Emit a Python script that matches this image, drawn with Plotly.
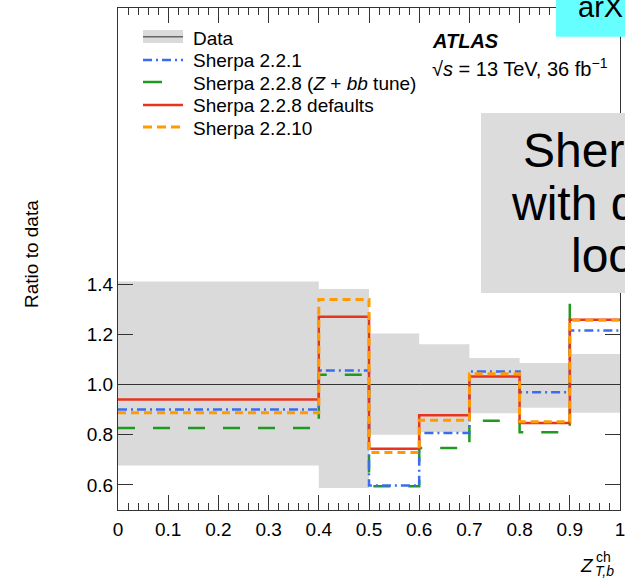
import plotly.graph_objects as go

# ---- data ----
bin_edges = [0.0, 0.4, 0.5, 0.6, 0.7, 0.8, 0.9, 1.0]
data_lo = [0.677, 0.588, 0.80, 0.81, 0.885, 0.907, 0.887]
data_hi = [1.41, 1.38, 1.203, 1.16, 1.106, 1.086, 1.122]
data_central = [1.0, 1.0, 1.0, 1.0, 1.0, 1.0, 1.0]
sherpa_221 = [0.90, 1.056, 0.598, 0.807, 1.052, 0.969, 1.215]
sherpa_228_zbb = [0.827, 1.039, 0.595, 0.747, 0.856, 0.81, 1.60]
sherpa_228_def = [0.94, 1.27, 0.744, 0.877, 1.032, 0.847, 1.258]
sherpa_2210 = [0.887, 1.339, 0.729, 0.858, 1.043, 0.852, 1.256]

x_tickvals = [0.0, 0.1, 0.2, 0.3, 0.4, 0.5, 0.6, 0.7, 0.8, 0.9, 1.0]
x_ticktext = ["0", "0.1", "0.2", "0.3", "0.4", "0.5", "0.6", "0.7", "0.8", "0.9", "1"]
y_tickvals = [0.6, 0.8, 1.0, 1.2, 1.4]
y_ticktext = ["0.6", "0.8", "1.0", "1.2", "1.4"]

legend_labels = ["Data", "Sherpa 2.2.1", "Sherpa 2.2.8 (<i>Z</i> + <i>bb</i> tune)",
                 "Sherpa 2.2.8 defaults", "Sherpa 2.2.10"]

FONT = "Liberation Sans, Arial, Helvetica, sans-serif"
W, H = 625, 585
L, R, T, B = 118, 620, 8, 510

BLUE = "#3a6cf0"
GREEN = "#1e9a1e"
RED = "#e8341f"
ORANGE = "#ff9a00"
BAND = "#dadada"


def step(vals):
    return list(vals) + [vals[-1]]


def px(xp):
    return (xp - L) / (R - L)


def py(yp):
    return (B - yp) / (B - T)


fig = go.Figure()

fig.add_trace(go.Scatter(x=bin_edges, y=step(data_lo), mode="lines",
                         line=dict(width=0, shape="hv"), hoverinfo="skip",
                         showlegend=False))
fig.add_trace(go.Scatter(x=bin_edges, y=step(data_hi), mode="lines",
                         line=dict(width=0, shape="hv"), fill="tonexty",
                         fillcolor=BAND, hoverinfo="skip", showlegend=False))
fig.add_trace(go.Scatter(x=bin_edges, y=step(data_central), mode="lines",
                         line=dict(width=1, color="#333333", shape="hv"),
                         showlegend=False))

series = [
    (sherpa_228_zbb, GREEN, "17px,18px", 2.5),
    (sherpa_221, BLUE, "9px,4px,2px,4px", 2.5),
    (sherpa_228_def, RED, "solid", 2.5),
    (sherpa_2210, ORANGE, "8px,5px", 3),
]
for vals, col, dash, w in series:
    fig.add_trace(go.Scatter(x=bin_edges, y=step(vals), mode="lines",
                             line=dict(color=col, width=w, dash=dash, shape="hv"),
                             showlegend=False))

shapes = []
annotations = []

# legend
shapes.append(dict(type="rect", xref="paper", yref="paper",
                   x0=px(143), x1=px(183), y0=py(30), y1=py(43),
                   fillcolor=BAND, line=dict(width=0)))
shapes.append(dict(type="line", xref="paper", yref="paper",
                   x0=px(143), x1=px(183), y0=py(36.8), y1=py(36.8),
                   line=dict(color="#666666", width=1.5)))
leg_lines = [(60, BLUE, "9px,4px,2px,4px", 2.5, 183),
             (82, GREEN, "solid", 2.5, 162),
             (105, RED, "solid", 2.5, 183),
             (127, ORANGE, "9px,5px", 3, 183)]
for yy, col, dash, w, xe in leg_lines:
    shapes.append(dict(type="line", xref="paper", yref="paper",
                       x0=px(143), x1=px(xe), y0=py(yy), y1=py(yy),
                       line=dict(color=col, width=w, dash=dash)))
for i, lab in enumerate(legend_labels):
    yc = 38.4 + 22.5 * i
    annotations.append(dict(xref="paper", yref="paper", x=px(191), y=py(yc),
                            xanchor="left", yanchor="middle", showarrow=False,
                            text=lab, font=dict(family=FONT, size=19, color="black")))

# ATLAS label
annotations.append(dict(xref="paper", yref="paper", x=px(430), y=py(41.4),
                        xanchor="left", yanchor="middle", showarrow=False,
                        text="<b><i>ATLAS</i></b>",
                        font=dict(family=FONT, size=20, color="black")))
annotations.append(dict(xref="paper", yref="paper", x=px(430), y=py(67),
                        xanchor="left", yanchor="middle", showarrow=False,
                        text="√<i>s</i> = 13 TeV, 36 fb<sup>−1</sup>",
                        font=dict(family=FONT, size=20, color="black")))

# y title
annotations.append(dict(xref="paper", yref="paper", x=px(31), y=py(254),
                        xanchor="center", yanchor="middle", showarrow=False,
                        textangle=-90, text="Ratio to data",
                        font=dict(family=FONT, size=19, color="black")))

# x title
annotations.append(dict(xref="paper", yref="paper", x=px(596), y=py(565.4),
                        xanchor="right", yanchor="middle", showarrow=False,
                        text="<i>Z</i>", font=dict(family=FONT, size=19, color="black")))
annotations.append(dict(xref="paper", yref="paper", x=px(594), y=py(557),
                        xanchor="left", yanchor="middle", showarrow=False,
                        text="ch", font=dict(family=FONT, size=14, color="black")))
annotations.append(dict(xref="paper", yref="paper", x=px(593), y=py(571),
                        xanchor="left", yanchor="middle", showarrow=False,
                        text="<i>T,b</i>", font=dict(family=FONT, size=14, color="black")))

# overlay boxes (slide elements)
shapes.append(dict(type="rect", xref="paper", yref="paper", layer="above",
                   x0=px(556), x1=px(700), y0=py(36.7), y1=py(-20),
                   fillcolor="#66ffff", line=dict(width=0)))
shapes.append(dict(type="rect", xref="paper", yref="paper", layer="above",
                   x0=px(481), x1=px(700), y0=py(293), y1=py(113),
                   fillcolor="#dcdcdc", line=dict(width=0)))
annotations.append(dict(xref="paper", yref="paper", x=px(576), y=py(6.7),
                        xanchor="left", yanchor="middle", showarrow=False,
                        text="arX", font=dict(family=FONT, size=29, color="black")))
for txt, x0, yb in [("Sher", 521, 166.7), ("with d", 509, 220), ("loo", 569, 271.7)]:
    annotations.append(dict(xref="paper", yref="paper", x=px(x0), y=py(yb - 0.3465 * 48),
                            xanchor="left", yanchor="middle", showarrow=False,
                            text=txt, font=dict(family=FONT, size=48, color="black")))

axcol = "#333333"
fig.update_layout(
    width=W, height=H,
    margin=dict(l=L, r=W - R, t=T, b=H - B, autoexpand=False),
    paper_bgcolor="white", plot_bgcolor="white",
    showlegend=False,
    shapes=shapes, annotations=annotations,
    xaxis=dict(range=[0, 1], tickvals=x_tickvals, ticktext=x_ticktext,
               ticks="inside", ticklen=15, tickwidth=1, tickcolor=axcol,
               minor=dict(dtick=0.02, ticks="inside", ticklen=7, tickwidth=1, tickcolor=axcol),
               showline=True, linecolor=axcol, linewidth=1, mirror="ticks",
               showgrid=False, zeroline=False, ticklabeloverflow="allow",
               ticklabelstandoff=2, automargin=False,
               tickfont=dict(family=FONT, size=19, color="black")),
    yaxis=dict(range=[0.5, 2.5], tickvals=y_tickvals, ticktext=y_ticktext,
               ticks="inside", ticklen=15, tickwidth=1, tickcolor=axcol,
               showline=True, linecolor=axcol, linewidth=1, mirror="ticks",
               showgrid=False, zeroline=False, automargin=False,
               tickfont=dict(family=FONT, size=19, color="black")),
)

fig.write_html("out.html")
